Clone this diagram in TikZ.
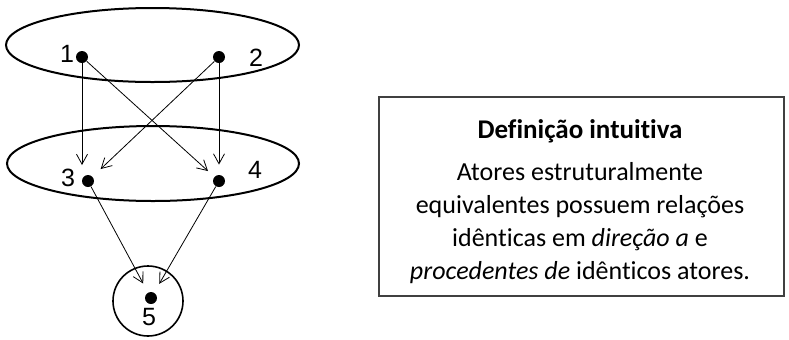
\documentclass[tikz,border=0pt]{standalone}
\usepackage{fontspec}
\setmainfont{Carlito}[Ligatures=NoCommon]
\newfontfamily\labelfont{Liberation Sans}
\usetikzlibrary{arrows.meta,shapes.geometric,calc}
\tikzset{
  group/.style={ellipse, draw, line width=1pt, inner sep=0pt},
  actor/.style={circle, fill, inner sep=0pt, minimum size=6pt},
  num/.style={font=\labelfont\fontsize{12.5}{14}\selectfont, inner sep=0pt},
  tie/.style={-{Straight Barb[length=5pt,width=5.5pt]}, line width=0.4pt},
  infobox/.style={draw=black!75, line width=0.6pt, inner sep=0pt},
  boxtext/.style={align=center, font=\fontsize{13}{16.5}\selectfont}
}

\begin{document}
\begin{tikzpicture}[x=0.5pt, y=-0.5pt]
\useasboundingbox (0,0) rectangle (789,339);
% groups
\node[group, minimum width=146.5pt, minimum height=37pt] (g1) at (152.5,45) {};
\node[group, minimum width=146pt, minimum height=37.5pt] (g2) at (153,163.5) {};
\node[circle, draw, line width=0.8pt, minimum size=35pt, inner sep=0pt] (g3) at (148,301) {};
% actors
\node[actor] (n1) at (82,57) {};
\node[actor] (n2) at (219,57) {};
\node[actor] (n3) at (88,181) {};
\node[actor] (n4) at (219,181) {};
\node[actor] (n5) at (151,298) {};
\node[num] (l1) at (67,54) {1};
\node[num] (l2) at (256,58) {2};
\node[num] (l3) at (68,178) {3};
\node[num] (l4) at (255,170) {4};
\node[num] (l5) at (149,317) {5};
% ties
\draw[tie, shorten >=8pt] (n1) -- (n1 |- n3);
\draw[tie, shorten >=5pt] (n2) -- (n4);
\draw[tie, shorten >=4.2pt] (n1) -- (n4);
\draw[tie, shorten >=5.5pt] (n2) -- (n3);
\draw[tie, shorten >=5pt] (n3) -- (n5);
\draw[tie, shorten >=5pt] (n4) -- (n5);
% definition box
\node[infobox, minimum width=202.5pt, minimum height=99.5pt] (box) at (581.5,196.5) {};
\node[boxtext, font=\bfseries\fontsize{13.5}{16.5}\selectfont] (title) at (580,131) {Definição intuitiva};
\node[boxtext] (body) at (580,223) {Atores estruturalmente\\equivalentes possuem relações\\idênticas em \textit{direção a} e\\\textit{procedentes de} idênticos atores.};
\end{tikzpicture}
\end{document}
